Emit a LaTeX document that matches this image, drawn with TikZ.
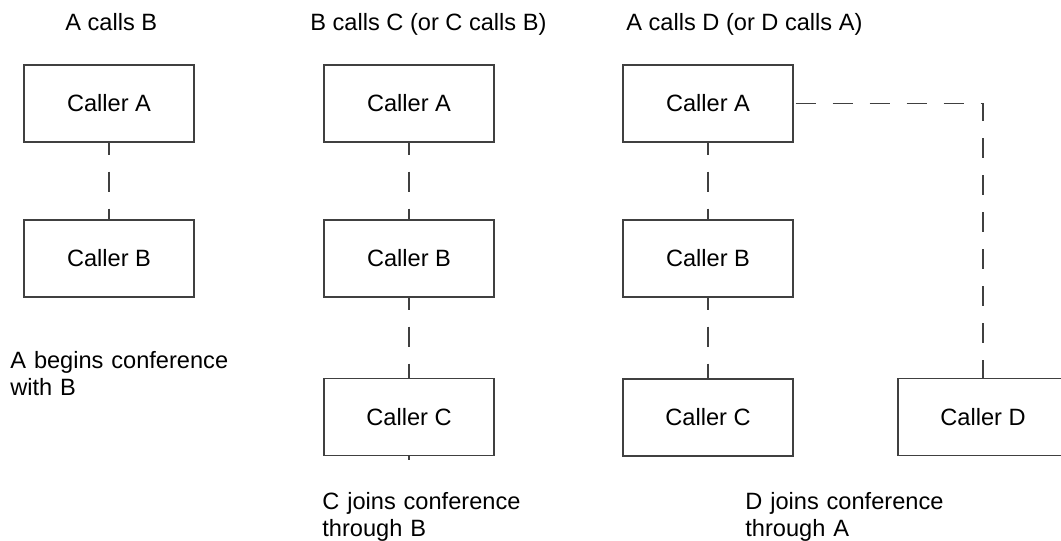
\documentclass[tikz,border=0pt]{standalone}
\usepackage{fontspec}
\setmainfont{Liberation Sans}

\begin{document}
\begin{tikzpicture}[x=0.5pt,y=-0.5pt]
    \tikzstyle{every node}=[font=\fontsize{11.8pt}{13.5pt}\selectfont]
    \tikzstyle{caller}=[rectangle,draw=black!75,line width=0.55pt,minimum width=85pt,minimum height=38.5pt,inner sep=0pt]
    \tikzstyle{link}=[draw=black!75,line width=0.55pt,dash pattern=on 10pt off 8.5pt,dash phase=4pt]
    \tikzstyle{caption}=[inner sep=0pt,anchor=base west]
    \tikzstyle{remark}=[caption,text width=120pt,align=left]
    \useasboundingbox (0,0) rectangle (1061,541);
    % A calls B
    \node[caption] (t1) at (65,30) {A calls B};
    \node[caller] (a1) at (109,103.5) {Caller A};
    \node[caller] (b1) at (109,258.5) {Caller B};
    \node[remark] (r1) at (10,368) {A begins conference\\with B};
    \draw[link] (a1) -- (b1);
    % B calls C
    \node[caption] (t2) at (310,30) {B calls C (or C calls B)};
    \node[caller] (a2) at (409,103.5) {Caller A};
    \node[caller] (b2) at (409,258.5) {Caller B};
    \node[caller] (c2) at (409,417) {Caller C};
    \node[remark] (r2) at (322,509) {C joins conference\\through B};
    \coordinate (c2tail) at ([yshift=-2pt]c2.south);
    \draw[link] (a2) -- (b2);
    \draw[link] (b2) -- (c2);
    \draw[link] (c2.south) -- (c2tail);
    % A calls D
    \node[caption] (t3) at (626,30) {A calls D (or D calls A)};
    \node[caller] (a3) at (708,103.5) {Caller A};
    \node[caller] (b3) at (708,258.5) {Caller B};
    \node[caller] (c3) at (708,417.5) {Caller C};
    \node[caller] (d3) at (983,417) {Caller D};
    \node[remark] (r3) at (745,509) {D joins conference\\through A};
    \draw[link] (a3) -- (b3);
    \draw[link] (b3) -- (c3);
    \draw[link,dash phase=17.5pt] (a3.east) -| (d3.north);
\end{tikzpicture}
\end{document}
